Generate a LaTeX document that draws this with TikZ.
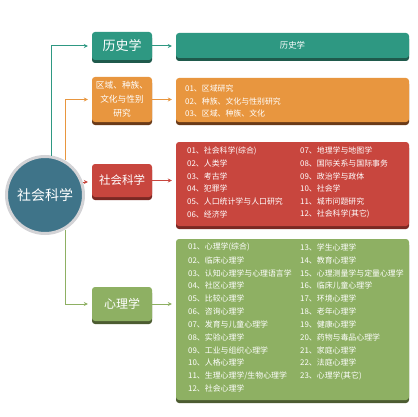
\documentclass[tikz,border=0pt]{standalone}
\usepackage{fontspec}
\setmainfont{Noto Sans CJK SC}
\usetikzlibrary{shadows,arrows.meta}
\definecolor{cteal}{HTML}{2E9882}
\definecolor{ctealdk}{HTML}{1F5A4C}
\definecolor{corange}{HTML}{E8963F}
\definecolor{corangedk}{HTML}{6A3A18}
\definecolor{cred}{HTML}{C8463E}
\definecolor{creddk}{HTML}{7A2823}
\definecolor{cgreen}{HTML}{8EB063}
\definecolor{cgreendk}{HTML}{4C5C31}
\definecolor{ccirc}{HTML}{3F7489}
\definecolor{cring}{HTML}{D3D3D6}
\tikzset{
  box/.style={rounded corners=3pt, text=white, align=center, inner sep=0pt,
    fill=#1, drop shadow={shadow xshift=0pt, shadow yshift=-3pt, fill=#1dk, opacity=1}},
  lvone/.style={minimum width=60pt},
  lvtwo/.style={minimum width=233pt},
  item/.style={anchor=west, text=white, inner sep=0pt, font=\fontsize{7.9}{9}\selectfont},
  conn/.style={draw=#1, line width=1pt, -{Stealth[length=4pt,width=4pt]}},
}
\begin{document}
\begin{tikzpicture}[x=1pt,y=-1pt]
\useasboundingbox (0,0) rectangle (417,417);
% central circle
\node[circle, fill=ccirc, draw=cring, line width=3pt, minimum size=77pt, inner sep=0pt,
  text=white, font=\fontsize{14}{16}\selectfont] (circ) at (45,195) {社会科学};
% level 1
\node[box=cteal, lvone, minimum height=28pt, font=\fontsize{13}{14}\selectfont] (h1) at (122,46) {历史学};
\node[box=corange, lvone, minimum height=45pt, font=\fontsize{8.7}{14}\selectfont] (o1) at (122,99.5) {区域、种族、\\文化与性别\\研究};
\node[box=cred, lvone, minimum height=33pt, font=\fontsize{11.5}{14}\selectfont] (r1) at (122,180.5) {社会科学};
\node[box=cgreen, lvone, minimum height=34pt, font=\fontsize{12}{14}\selectfont] (g1) at (122,304) {心理学};
% level 2
\node[box=cteal, lvtwo, minimum height=25pt, font=\fontsize{8.4}{9}\selectfont] (h2) at (292.5,45.5) {历史学};
\node[box=corange, lvtwo, minimum height=44pt] (o2) at (292.5,100) {};
\node[box=cred, lvtwo, minimum height=84pt] (r2) at (292.5,184) {};
\node[box=cgreen, lvtwo, minimum height=161pt] (g2) at (292.5,319.5) {};
% connectors
\coordinate (ct) at (51,155.5);
\coordinate (co) at (65,160.4);
\coordinate (cr) at (82.8,182);
\coordinate (cg) at (65,229.6);
\draw[conn=cteal] (ct) |- ([xshift=-4pt]h1.west);
\draw[conn=corange] (co) |- ([xshift=-4pt]o1.west);
\draw[conn=cred] (cr) -- ([xshift=-4pt]r1.west |- cr);
\draw[conn=cgreen] (cg) |- ([xshift=-4pt]g1.west);
\draw[conn=cteal] (h1.east) -- ([xshift=-4pt]h2.west |- h1.east);
\draw[conn=corange] (o1.east) -- ([xshift=-4pt]o2.west |- o1.east);
\draw[conn=cred] (r1.east) -- ([xshift=-4pt]r2.west |- r1.east);
\draw[conn=cgreen] (g1.east) -- ([xshift=-4pt]g2.west |- g1.east);
% orange items
\node[item] (oa) at (185,88) {01、区域研究};
\node[item] (ob) at (185,101) {02、种族、文化与性别研究};
\node[item] (oc) at (185,113.5) {03、区域、种族、文化};
% red items
\foreach \t [count=\i] in {01、社会科学(综合),02、人类学,03、考古学,04、犯罪学,05、人口统计学与人口研究,06、经济学}
  \node[item] (rl\i) at (187,{150.7+(\i-1)*12.7}) {\t};
\foreach \t [count=\i] in {07、地理学与地图学,08、国际关系与国际事务,09、政治学与政体,10、社会学,11、城市问题研究,12、社会科学(其它)}
  \node[item] (rr\i) at (300,{150.7+(\i-1)*12.7}) {\t};
% green items
\foreach \t [count=\i] in {01、心理学(综合),02、临床心理学,03、认知心理学与心理语言学,04、社区心理学,05、比较心理学,06、咨询心理学,07、发育与儿童心理学,08、实验心理学,09、工业与组织心理学,10、人格心理学,11、生理心理学/生物心理学,12、社会心理学}
  \node[item] (gl\i) at (188,{247.3+(\i-1)*12.85}) {\t};
\foreach \t [count=\i] in {13、学生心理学,14、教育心理学,15、心理测量学与定量心理学,16、临床儿童心理学,17、环境心理学,18、老年心理学,19、健康心理学,20、药物与毒品心理学,21、家庭心理学,22、法庭心理学,23、心理学(其它)}
  \node[item] (gr\i) at (300,{247.3+(\i-1)*12.85}) {\t};
\end{tikzpicture}
\end{document}
